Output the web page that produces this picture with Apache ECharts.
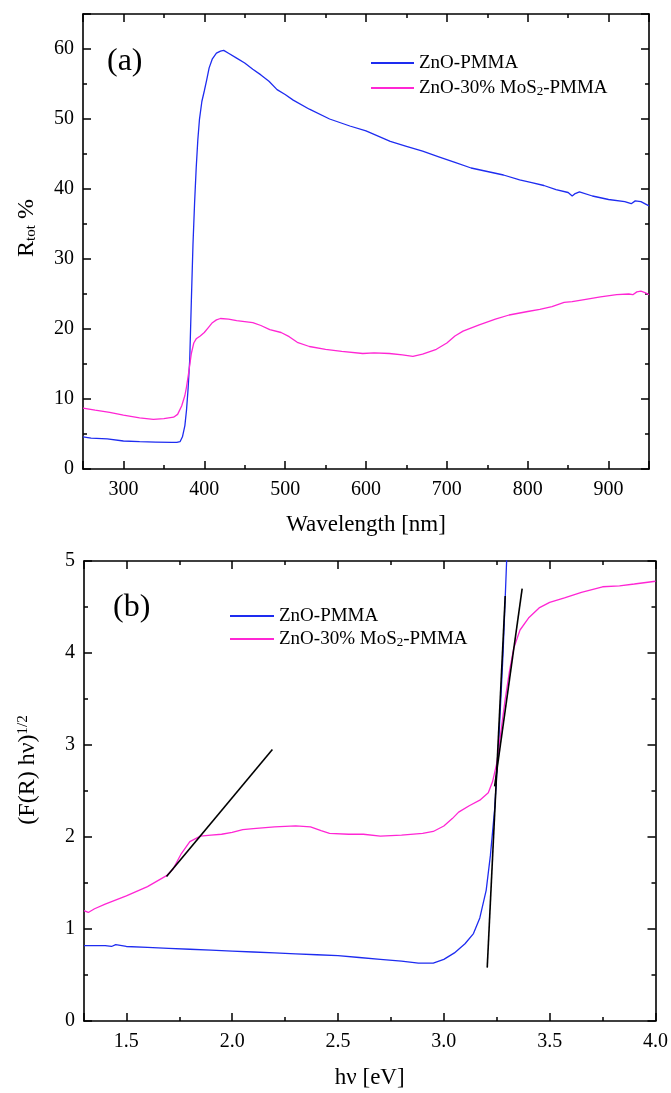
<!DOCTYPE html>
<html>
<head>
<meta charset="utf-8">
<script src="https://cdn.jsdelivr.net/npm/echarts@6/dist/echarts.min.js"></script>
<style>
html,body{margin:0;padding:0;background:#fff;}
#c{width:671px;height:1093px;}
</style>
</head>
<body>
<div id="c"></div>
<script>
// ---------- DATA ----------
const seriesNames = ['ZnO-PMMA', 'ZnO-30% MoS2-PMMA'];

// (a) total reflectance vs wavelength
const wlBlue = [250,260,280,300,320,340,360,366,370,373,376,378,380,382,384,386,388,390,392,394,397,400,403,406,410,415,420,424,430,440,450,460,470,480,490,500,510,530,555,580,600,630,650,670,690,710,730,750,770,790,805,820,835,850,855,858,864,880,900,920,928,933,940,950];
const rBlue  = [4.6,4.4,4.3,4.0,3.9,3.85,3.8,3.8,3.9,4.6,6.2,8.4,11.5,15.6,24,32,38,43,47,49.9,52.5,54,55.6,57.3,58.6,59.4,59.7,59.8,59.4,58.7,58.0,57.1,56.3,55.4,54.2,53.5,52.7,51.4,50.0,49.0,48.3,46.8,46.1,45.4,44.6,43.8,43.0,42.5,42.0,41.3,40.9,40.5,39.9,39.5,39.0,39.3,39.6,39.0,38.5,38.2,37.9,38.3,38.2,37.6];

const wlPink = [250,265,283,300,320,337,350,362,367,372,376,378,381,384,387,390,395,400,405,410,415,420,430,440,460,470,481,495,505,515,530,550,570,596,610,629,645,658,670,687,700,710,720,740,760,777,800,815,830,845,855,870,890,910,925,930,935,940,945,950];
const rPink  = [8.7,8.4,8.1,7.7,7.3,7.1,7.2,7.4,7.8,9.0,10.5,11.7,14,16.5,18,18.6,19.0,19.5,20.2,20.9,21.3,21.5,21.4,21.2,20.9,20.5,19.9,19.5,18.9,18.1,17.5,17.1,16.8,16.5,16.6,16.5,16.3,16.1,16.4,17.1,18.0,19.0,19.7,20.6,21.4,22.0,22.5,22.8,23.2,23.8,23.9,24.2,24.6,24.9,25.0,24.9,25.3,25.4,25.2,24.9];

// (b) Tauc plot
const eBlue = [1.3,1.4,1.43,1.45,1.5,1.6,1.7,1.8,1.9,2.0,2.1,2.2,2.3,2.4,2.5,2.6,2.7,2.8,2.88,2.95,3.0,3.05,3.1,3.14,3.17,3.2,3.22,3.24,3.26,3.28,3.29,3.3];
const fBlue = [0.82,0.82,0.81,0.83,0.81,0.80,0.79,0.78,0.77,0.76,0.75,0.74,0.73,0.72,0.71,0.69,0.67,0.65,0.63,0.63,0.67,0.74,0.84,0.95,1.12,1.42,1.8,2.3,3.07,4.0,4.6,5.2];

const ePink = [1.3,1.32,1.35,1.4,1.5,1.6,1.69,1.72,1.76,1.8,1.85,1.9,1.95,2.0,2.05,2.1,2.2,2.3,2.37,2.42,2.46,2.55,2.62,2.7,2.8,2.9,2.95,3.0,3.04,3.07,3.12,3.17,3.21,3.23,3.25,3.27,3.29,3.31,3.33,3.36,3.4,3.45,3.5,3.57,3.65,3.75,3.83,3.9,4.0];
const fPink = [1.2,1.18,1.22,1.27,1.36,1.46,1.58,1.65,1.82,1.95,2.01,2.02,2.03,2.05,2.08,2.09,2.11,2.12,2.11,2.07,2.04,2.03,2.03,2.01,2.02,2.04,2.06,2.12,2.2,2.27,2.34,2.4,2.48,2.6,2.8,3.15,3.5,3.8,4.05,4.25,4.38,4.49,4.55,4.6,4.66,4.72,4.73,4.75,4.78];

// tangent (fit) lines: [x0,x1], [y0,y1]
const fit1X = [1.69, 2.19], fit1Y = [1.57, 2.95];
const fit2X = [3.205, 3.29], fit2Y = [0.58, 4.62];
const fit3X = [3.24, 3.37], fit3Y = [2.55, 4.70];

// axis tick labels
const xTicksA = [300,400,500,600,700,800,900];
const yTicksA = [0,10,20,30,40,50,60];
const xTicksB = [1.5,2.0,2.5,3.0,3.5,4.0];
const yTicksB = [0,1,2,3,4,5];

// ---------- HELPERS ----------
const FONT = 'Liberation Serif';
const BLUE = '#1e2cf0';
const PINK = '#ff26d4';
const zip = (xs, ys) => xs.map((x, i) => [x, ys[i]]);
const near = (v, arr) => arr.some(t => Math.abs(t - v) < 1e-6);

function axisPair(dim, opts) {
  const {gridIndex, min, max, major, minor, position, labels, labelFmt, name, nameGap, nameStyle, showLine} = opts;
  const majorAxis = {
    type: 'value', gridIndex, min, max, position,
    minInterval: major, maxInterval: major,
    axisLine: {show: showLine, onZero: false, lineStyle: {color: '#000', width: 1.6}},
    axisTick: {show: true, inside: true, length: 8, lineStyle: {color: '#000', width: 1.5}},
    axisLabel: labels ? {
      show: true, color: '#000', fontFamily: FONT, fontSize: 20, margin: dim === 'x' ? 11 : 9,
      formatter: labelFmt
    } : {show: false},
    splitLine: {show: false}
  };
  if (name) {
    majorAxis.name = name;
    majorAxis.nameLocation = 'middle';
    majorAxis.nameGap = nameGap;
    majorAxis.nameTextStyle = nameStyle;
  }
  const minorAxis = {
    type: 'value', gridIndex, min, max, position,
    minInterval: minor, maxInterval: minor,
    axisLine: {show: false, onZero: false},
    axisTick: {show: true, inside: true, length: 4, lineStyle: {color: '#000', width: 1.5}},
    axisLabel: {show: false},
    splitLine: {show: false}
  };
  return [majorAxis, minorAxis];
}

const richSub = {fontFamily: FONT, fontSize: 15, lineHeight: 12, verticalAlign: 'bottom', color: '#000'};
const richSup = {fontFamily: FONT, fontSize: 15, lineHeight: 12, verticalAlign: 'top', color: '#000'};

const xAxes = [
  ...axisPair('x', {gridIndex: 0, min: 250, max: 950, major: 100, minor: 50, position: 'bottom', labels: true,
    labelFmt: v => near(v, xTicksA) ? String(v) : '', showLine: true,
    name: 'Wavelength [nm]', nameGap: 44,
    nameStyle: {fontFamily: FONT, fontSize: 23, color: '#000', lineHeight: 23}}),
  ...axisPair('x', {gridIndex: 0, min: 250, max: 950, major: 100, minor: 50, position: 'top', labels: false, showLine: true}),
  ...axisPair('x', {gridIndex: 1, min: 1.3, max: 4.0, major: 0.5, minor: 0.25, position: 'bottom', labels: true,
    labelFmt: v => near(v, xTicksB) ? v.toFixed(1) : '', showLine: true,
    name: 'h\u03bd [eV]', nameGap: 45,
    nameStyle: {fontFamily: FONT, fontSize: 23, color: '#000', lineHeight: 23}}),
  ...axisPair('x', {gridIndex: 1, min: 1.3, max: 4.0, major: 0.5, minor: 0.25, position: 'top', labels: false, showLine: true})
];

const yAxes = [
  ...axisPair('y', {gridIndex: 0, min: 0, max: 65, major: 10, minor: 5, position: 'left', labels: true,
    labelFmt: v => near(v, yTicksA) ? String(v) : '', showLine: true,
    name: 'R{sub|tot} %', nameGap: 44,
    nameStyle: {fontFamily: FONT, fontSize: 24, color: '#000', lineHeight: 24, padding: [0, 0, 0, 27], rich: {sub: richSub}}}),
  ...axisPair('y', {gridIndex: 0, min: 0, max: 65, major: 10, minor: 5, position: 'right', labels: false, showLine: true}),
  ...axisPair('y', {gridIndex: 1, min: 0, max: 5, major: 1, minor: 0.5, position: 'left', labels: true,
    labelFmt: v => near(v, yTicksB) ? String(v) : '', showLine: true,
    name: '(F(R) h\u03bd){sup|1/2}', nameGap: 44,
    nameStyle: {fontFamily: FONT, fontSize: 24, color: '#000', lineHeight: 24, padding: [0, 0, 0, 42], rich: {sup: richSup}}}),
  ...axisPair('y', {gridIndex: 1, min: 0, max: 5, major: 1, minor: 0.5, position: 'right', labels: false, showLine: true})
];

const legendFmt = n => n === seriesNames[1] ? 'ZnO-30% MoS{sub|2}-PMMA' : n;
const legendText = {fontFamily: FONT, fontSize: 19, color: '#000', lineHeight: 20,
  rich: {sub: {fontFamily: FONT, fontSize: 13, lineHeight: 10, verticalAlign: 'bottom', color: '#000'}}};

const lineSeries = (name, data, color, xi, yi, w) => ({
  name, type: 'line', data, xAxisIndex: xi, yAxisIndex: yi,
  symbol: 'none', showSymbol: false, smooth: false, silent: true, animation: false,
  lineStyle: {color, width: w}, itemStyle: {color}
});

const option = {
  backgroundColor: '#fff',
  animation: false,
  grid: [
    {left: 83, top: 14, width: 566, height: 455, containLabel: false},
    {left: 84, top: 561, width: 572, height: 460, containLabel: false}
  ],
  title: [
    {text: '(a)', left: 107, top: 46, padding: 0, textStyle: {fontFamily: FONT, fontSize: 32, fontWeight: 'normal', color: '#000'}},
    {text: '(b)', left: 113, top: 592, padding: 0, textStyle: {fontFamily: FONT, fontSize: 32, fontWeight: 'normal', color: '#000'}}
  ],
  legend: [
    {data: seriesNames, orient: 'vertical', left: 371, top: 53, padding: 0, itemGap: 5, itemWidth: 43, itemHeight: 2,
     icon: 'rect', selectedMode: false, formatter: legendFmt, textStyle: legendText},
    {data: seriesNames, orient: 'vertical', left: 230, top: 606, padding: 0, itemGap: 3, itemWidth: 44, itemHeight: 2,
     icon: 'rect', selectedMode: false, formatter: legendFmt, textStyle: legendText}
  ],
  xAxis: xAxes,
  yAxis: yAxes,
  series: [
    lineSeries(seriesNames[0], zip(wlBlue, rBlue), BLUE, 0, 0, 1.3),
    lineSeries(seriesNames[1], zip(wlPink, rPink), PINK, 0, 0, 1.3),
    lineSeries(seriesNames[0], zip(eBlue, fBlue), BLUE, 4, 4, 1.3),
    lineSeries(seriesNames[1], zip(ePink, fPink), PINK, 4, 4, 1.3),
    lineSeries('fit1', zip(fit1X, fit1Y), '#000', 4, 4, 1.6),
    lineSeries('fit2', zip(fit2X, fit2Y), '#000', 4, 4, 1.6),
    lineSeries('fit3', zip(fit3X, fit3Y), '#000', 4, 4, 1.6)
  ]
};

const chart = echarts.init(document.getElementById('c'), null, {renderer: 'canvas'});
chart.setOption(option);
</script>
</body>
</html>
